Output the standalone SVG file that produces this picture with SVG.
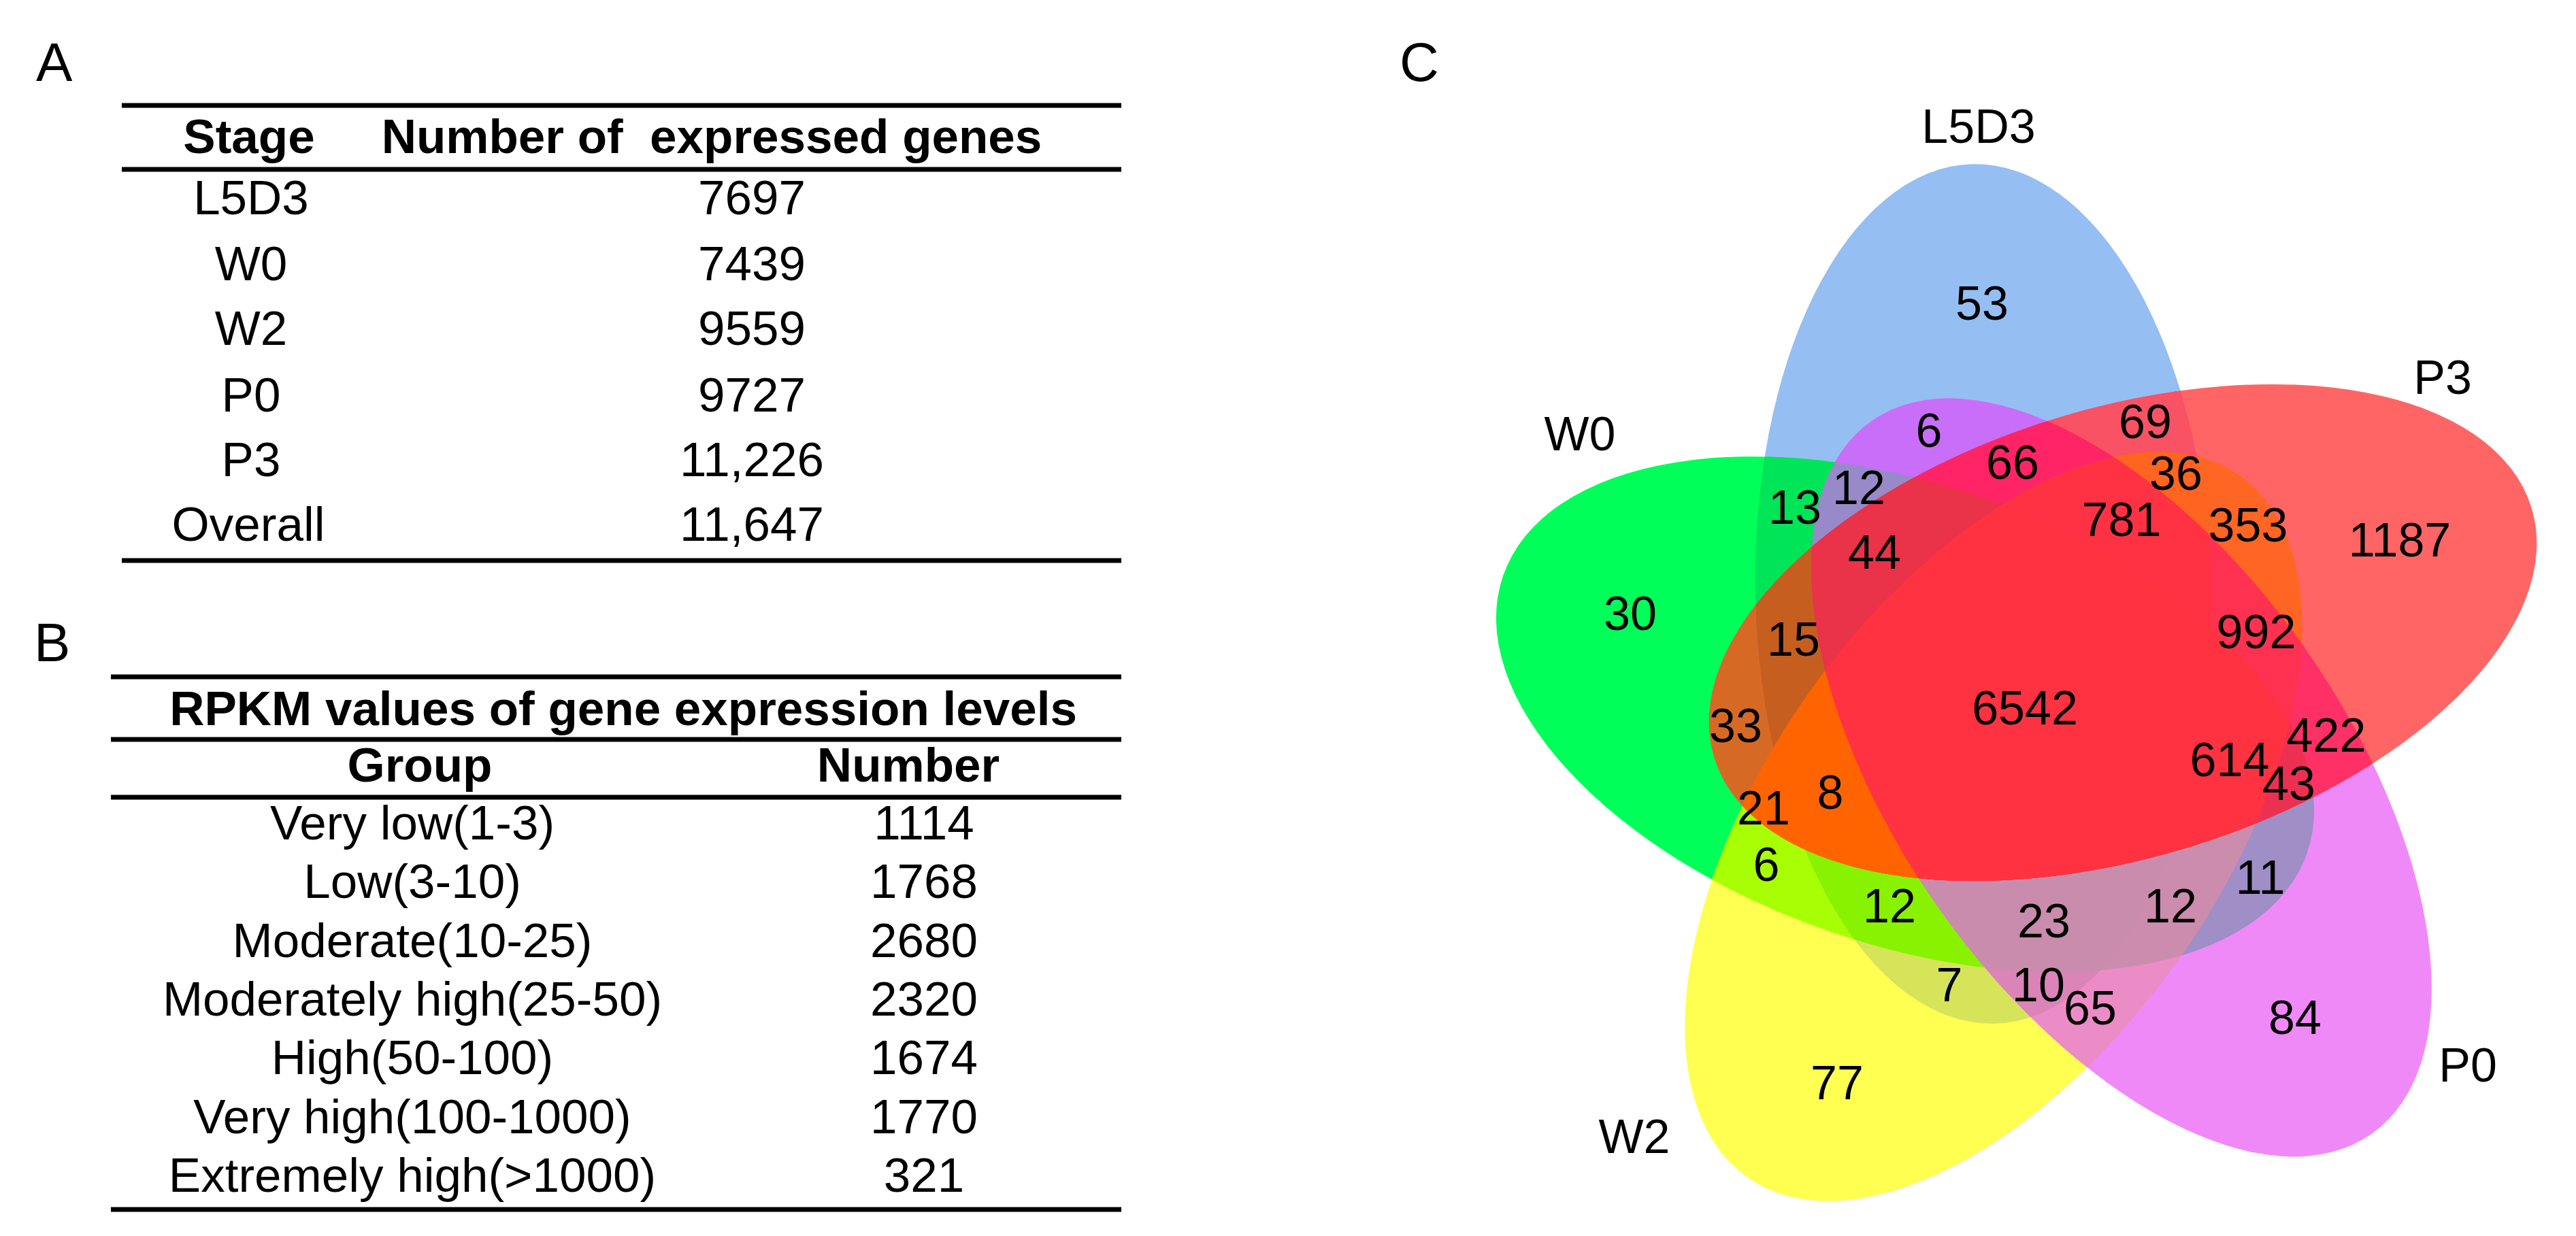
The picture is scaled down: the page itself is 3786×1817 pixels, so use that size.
<svg xmlns="http://www.w3.org/2000/svg" xmlns:xlink="http://www.w3.org/1999/xlink" width="3786" height="1817" viewBox="0 0 3786 1817">
<style>
text{font-family:"Liberation Sans",Arial,sans-serif;fill:#000}
.lab{font-size:80px}
.t{font-size:71px;text-anchor:middle}
.th{font-size:71px;font-weight:bold;text-anchor:middle}
.n{font-size:70px;text-anchor:middle}
.rule{stroke:#000;stroke-width:7;fill:none}
</style>
<defs>
<ellipse id="eB" cx="2915" cy="873" rx="632" ry="335" transform="rotate(88.5 2915 873)"/>
<ellipse id="eG" cx="2800" cy="1050" rx="625" ry="338" transform="rotate(19 2800 1050)"/>
<ellipse id="eY" cx="2930" cy="1215" rx="630" ry="335" transform="rotate(-55 2930 1215)"/>
<ellipse id="eM" cx="3118" cy="1143" rx="640" ry="330" transform="rotate(55 3118 1143)"/>
<ellipse id="eR" cx="3120" cy="930" rx="628" ry="330" transform="rotate(-17 3120 930)"/>
<clipPath id="cB"><use href="#eB"/></clipPath>
<clipPath id="cG"><use href="#eG"/></clipPath>
<clipPath id="cY"><use href="#eY"/></clipPath>
<clipPath id="cM"><use href="#eM"/></clipPath>
<clipPath id="cR"><use href="#eR"/></clipPath>
</defs>
<rect width="3786" height="1817" fill="#fff"/>

<g id="panelA">
<text class="lab" x="53" y="119">A</text>
<line class="rule" x1="179" y1="155" x2="1648" y2="155"/>
<line class="rule" x1="179" y1="249" x2="1648" y2="249"/>
<line class="rule" x1="179" y1="824" x2="1648" y2="824"/>
<text class="th" x="366" y="225">Stage</text>
<text class="th" x="1046" y="225" xml:space="preserve">Number of  expressed genes</text>
<text class="t" x="369" y="315">L5D3</text><text class="t" x="1105" y="315">7697</text>
<text class="t" x="369" y="412">W0</text><text class="t" x="1105" y="412">7439</text>
<text class="t" x="369" y="507">W2</text><text class="t" x="1105" y="507">9559</text>
<text class="t" x="369" y="605">P0</text><text class="t" x="1105" y="605">9727</text>
<text class="t" x="369" y="700">P3</text><text class="t" x="1105" y="700">11,226</text>
<text class="t" x="365" y="795">Overall</text><text class="t" x="1105" y="795">11,647</text>
</g>

<g id="panelB">
<text class="lab" x="50" y="972">B</text>
<line class="rule" x1="163" y1="995" x2="1648" y2="995"/>
<line class="rule" x1="163" y1="1087" x2="1648" y2="1087"/>
<line class="rule" x1="163" y1="1172" x2="1648" y2="1172"/>
<line class="rule" x1="163" y1="1778" x2="1648" y2="1778"/>
<text class="th" x="916" y="1066">RPKM values of gene expression levels</text>
<text class="th" x="617" y="1149">Group</text>
<text class="th" x="1335" y="1149">Number</text>
<text class="t" x="606" y="1234">Very low(1-3)</text><text class="t" x="1358" y="1234">1114</text>
<text class="t" x="606" y="1320">Low(3-10)</text><text class="t" x="1358" y="1320">1768</text>
<text class="t" x="606" y="1407">Moderate(10-25)</text><text class="t" x="1358" y="1407">2680</text>
<text class="t" x="606" y="1493">Moderately high(25-50)</text><text class="t" x="1358" y="1493">2320</text>
<text class="t" x="606" y="1579">High(50-100)</text><text class="t" x="1358" y="1579">1674</text>
<text class="t" x="606" y="1666">Very high(100-1000)</text><text class="t" x="1358" y="1666">1770</text>
<text class="t" x="606" y="1752">Extremely high(&gt;1000)</text><text class="t" x="1358" y="1752">321</text>
</g>

<g id="panelC">
<text class="lab" x="2057" y="119">C</text>
<g id="venn-regions">
<use href="#eB" fill="#95BEF3"/>
<use href="#eG" fill="#00FF58"/>
<use href="#eY" fill="#FFFF52"/>
<use href="#eM" fill="#F089F8"/>
<use href="#eR" fill="#FF6565"/>
<g clip-path="url(#cB)"><use href="#eG" fill="#00E458"/></g>
<g clip-path="url(#cB)"><use href="#eY" fill="#D6E45A"/></g>
<g clip-path="url(#cB)"><use href="#eM" fill="#C86EF9"/></g>
<g clip-path="url(#cB)"><use href="#eR" fill="#F85264"/></g>
<g clip-path="url(#cG)"><use href="#eY" fill="#A8FF05"/></g>
<g clip-path="url(#cG)"><use href="#eM" fill="#A08EC6"/></g>
<g clip-path="url(#cG)"><use href="#eR" fill="#D66A25"/></g>
<g clip-path="url(#cY)"><use href="#eM" fill="#EC8CC6"/></g>
<g clip-path="url(#cY)"><use href="#eR" fill="#FF6623"/></g>
<g clip-path="url(#cM)"><use href="#eR" fill="#FF3066"/></g>
<g clip-path="url(#cB)"><g clip-path="url(#cG)"><use href="#eY" fill="#88F200"/></g></g>
<g clip-path="url(#cB)"><g clip-path="url(#cG)"><use href="#eM" fill="#988AC8"/></g></g>
<g clip-path="url(#cB)"><g clip-path="url(#cG)"><use href="#eR" fill="#C65E20"/></g></g>
<g clip-path="url(#cB)"><g clip-path="url(#cY)"><use href="#eM" fill="#DA84B8"/></g></g>
<g clip-path="url(#cB)"><g clip-path="url(#cY)"><use href="#eR" fill="#FF6420"/></g></g>
<g clip-path="url(#cB)"><g clip-path="url(#cM)"><use href="#eR" fill="#FF2466"/></g></g>
<g clip-path="url(#cG)"><g clip-path="url(#cY)"><use href="#eM" fill="#CC8CAE"/></g></g>
<g clip-path="url(#cG)"><g clip-path="url(#cY)"><use href="#eR" fill="#FF6400"/></g></g>
<g clip-path="url(#cG)"><g clip-path="url(#cM)"><use href="#eR" fill="#EC3052"/></g></g>
<g clip-path="url(#cY)"><g clip-path="url(#cM)"><use href="#eR" fill="#FF3150"/></g></g>
<g clip-path="url(#cB)"><g clip-path="url(#cG)"><g clip-path="url(#cY)"><use href="#eM" fill="#C98CAC"/></g></g></g>
<g clip-path="url(#cB)"><g clip-path="url(#cG)"><g clip-path="url(#cY)"><use href="#eR" fill="#FF6400"/></g></g></g>
<g clip-path="url(#cB)"><g clip-path="url(#cG)"><g clip-path="url(#cM)"><use href="#eR" fill="#EA3248"/></g></g></g>
<g clip-path="url(#cB)"><g clip-path="url(#cY)"><g clip-path="url(#cM)"><use href="#eR" fill="#FF3244"/></g></g></g>
<g clip-path="url(#cG)"><g clip-path="url(#cY)"><g clip-path="url(#cM)"><use href="#eR" fill="#FF3241"/></g></g></g>
<g clip-path="url(#cB)"><g clip-path="url(#cG)"><g clip-path="url(#cY)"><g clip-path="url(#cM)"><use href="#eR" fill="#FF3241"/></g></g></g></g>
</g>
<g id="set-labels">
<text class="n" x="2908" y="210">L5D3</text>
<text class="n" x="3590" y="579">P3</text>
<text class="n" x="2322" y="662">W0</text>
<text class="n" x="3627" y="1590">P0</text>
<text class="n" x="2402" y="1695">W2</text>
</g>
<g id="counts">
<text class="n" x="2913" y="470">53</text>
<text class="n" x="2835" y="657">6</text>
<text class="n" x="3153" y="644">69</text>
<text class="n" x="2958" y="704">66</text>
<text class="n" x="3198" y="720">36</text>
<text class="n" x="2732" y="741">12</text>
<text class="n" x="2638" y="770">13</text>
<text class="n" x="3118" y="788">781</text>
<text class="n" x="3304" y="796">353</text>
<text class="n" x="3527" y="818">1187</text>
<text class="n" x="2755" y="836">44</text>
<text class="n" x="2396" y="926">30</text>
<text class="n" x="3316" y="953">992</text>
<text class="n" x="2636" y="964">15</text>
<text class="n" x="2976" y="1065">6542</text>
<text class="n" x="2551" y="1091">33</text>
<text class="n" x="3419" y="1105">422</text>
<text class="n" x="3277" y="1141">614</text>
<text class="n" x="3364" y="1176">43</text>
<text class="n" x="2690" y="1189">8</text>
<text class="n" x="2592" y="1212">21</text>
<text class="n" x="2596" y="1295">6</text>
<text class="n" x="3322" y="1314">11</text>
<text class="n" x="2777" y="1356">12</text>
<text class="n" x="3190" y="1356">12</text>
<text class="n" x="3004" y="1378">23</text>
<text class="n" x="2865" y="1472">7</text>
<text class="n" x="2996" y="1472">10</text>
<text class="n" x="3072" y="1506">65</text>
<text class="n" x="3373" y="1520">84</text>
<text class="n" x="2700" y="1616">77</text>
</g>
</g>
</svg>
